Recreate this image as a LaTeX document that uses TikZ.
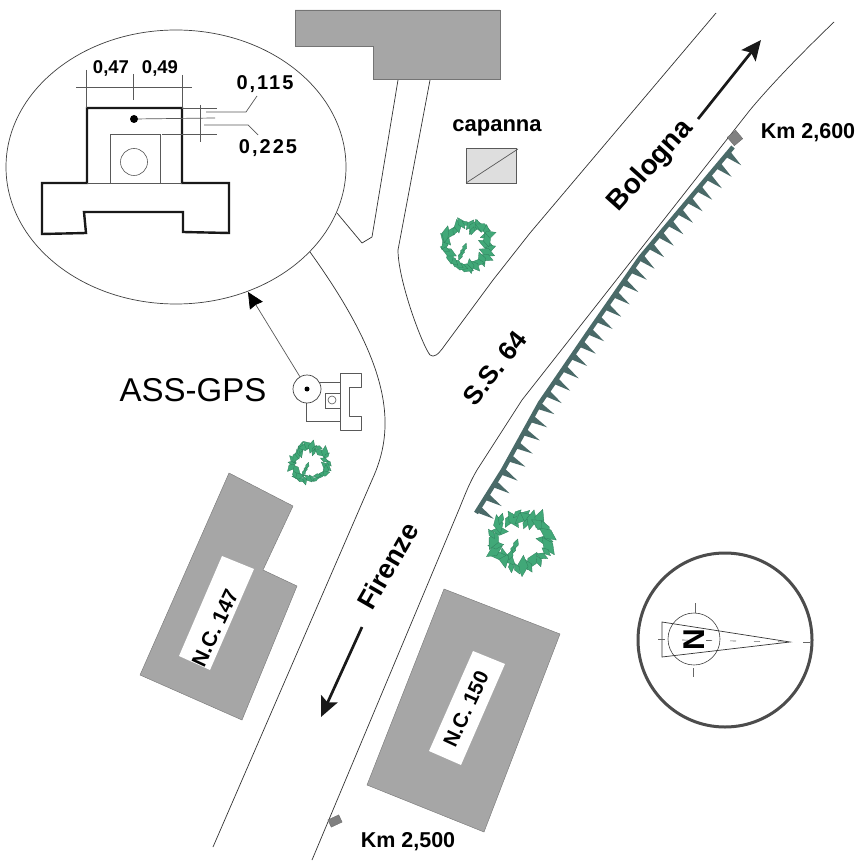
\documentclass[tikz,border=0pt]{standalone}
\usepackage{fontspec}
\setmainfont{Liberation Sans}
\usetikzlibrary{shapes.geometric,decorations.markings,arrows.meta}
\definecolor{bldg}{HTML}{A6A6A6}
\definecolor{leaf}{HTML}{41A878}
\definecolor{leafdk}{HTML}{2F7F5C}
\definecolor{hedge}{HTML}{4A6A68}
\newcommand{\fs}[1]{\fontsize{#1}{#1}\selectfont}
\tikzset{
  x=1pt,y=-1pt,
  road/.style={draw=black!80,line width=.7pt,line join=round},
  thin line/.style={draw=black!65,line width=.7pt},
  heavy/.style={draw=black!90,line width=2.4pt,line join=miter},
  building/.style={fill=bldg,draw=bldg!70!black,line width=.4pt},
  label/.style={inner sep=0pt,font=\bfseries\fs{#1}},
  label/.default=21,
  leafshape/.style={fill=leaf,draw=leafdk,line width=.3pt},
  bigarrow/.style={line width=2.7pt,draw=black!90,-{Stealth[length=20pt,width=18pt,inset=4pt]}},
  tree/.pic={
    \pgfmathsetseed{#1}
    \foreach \a in {0,12,...,348}{
      \pgfmathsetmacro\r{16+6*rnd}
      \pgfmathsetmacro\b{\a+140*rnd-70}
      \pgfmathsetmacro\l{4+4*rnd}
      \fill[leafshape,shift={(\a:\r)},rotate=\b] (-\l,0)--(0,-.5*\l)--(\l,0)--(0,.5*\l)--cycle;
    }
    \foreach \p/\q in {-5/7,-3/3,-7/11,4/-12}{
      \fill[leafshape,shift={(\p,\q)},rotate=70] (-4,0)--(0,-2)--(4,0)--(0,2)--cycle;
    }
  },
  tree/.default=11
}
\begin{document}
\begin{tikzpicture}
\useasboundingbox (0,0) rectangle (866,866);
\fill[white] (0,0) rectangle (866,866);
% roads
\path[road] (213,847) -- (372,480) .. controls (395,430) and (395,370) .. (310,252);
\path[road] (312,860) -- (460,507) .. controls (466,492) and (470,482) .. (477,470) -- (522,400) -- (750,110) .. controls (775,80) and (810,45) .. (834,22);
\path[road] (716,13) -- (530,233) -- (493,280) -- (445,345) .. controls (438,355) and (434,358) .. (430,355) .. controls (422,345) and (398,280) .. (398,250) -- (430,80);
\path[road] (337,213) -- (362,243) -- (372,237) -- (398,80);
% top building
\path[building] (295,10) -- (500,10) -- (500,79) -- (373,79) -- (373,46) -- (295,46) -- cycle;
% shed
\path[fill=black!13,draw=black!65,line width=.8pt] (466,148) rectangle (516,183);
\draw[thin line] (466,183) -- (518,149);
\node[label=22] (capanna) at (497,128) {capanna};
% trees
\pic[scale=1.1] at (468,244) {tree=3};
\pic[scale=.88] at (310,463) {tree=7};
\pic[scale=1.35] at (520,540) {tree=12};
% hedge
\draw[hedge,line width=4.5pt,line join=round,postaction={decorate},
  decoration={markings,mark=between positions 0.01 and 1 step 15pt with {
    \fill[hedge] (-3.7,0) -- (3.7,0) -- (0,18) -- cycle;}}]
  (476,513) -- (503,470) -- (540,403) -- (590,330) -- (640,258) -- (665,228) -- (733,147);
\node[fill=black!50,draw=black!60,line width=.3pt,minimum size=11pt,inner sep=0pt,rotate=40] (kmA) at (735,138) {};
\node[fill=black!50,draw=black!60,line width=.3pt,minimum width=12pt,minimum height=8pt,inner sep=0pt,rotate=25] (kmB) at (335,821) {};
\node[label=21.5] (kmAt) at (808,133) {Km 2,600};
\node[label=21.5] (kmBt) at (408,842) {Km 2,500};
% road labels and arrows
\node[label=28,rotate=48] (bologna) at (651,166) {Bologna};
\node[label=26,rotate=52] (ss) at (495,368) {S.S. 64};
\node[label=27,rotate=60] (firenze) at (388,566) {Firenze};
\coordinate (bolS) at (698,119); \coordinate (bolE) at (761,40);
\coordinate (firS) at (362,627); \coordinate (firE) at (321,717);
\draw[bigarrow] (bolS) -- (bolE);
\draw[bigarrow] (firS) -- (firE);
% lower buildings
\path[building] (229,473) -- (293,506) -- (263,570) -- (297,586) -- (242,720) -- (140,675) -- cycle;
\fill[white] (222,556) -- (254,569) -- (210,670) -- (179,656) -- cycle;
\node[label=21,rotate=65] (nc147) at (215,628) {N.C. 147};
\path[building] (444,589) -- (560,634) -- (484,832) -- (367,785) -- cycle;
\fill[white] (473,651) -- (505,664) -- (461,765) -- (429,751) -- cycle;
\node[label=20.5,rotate=65] (nc150) at (466,709) {N.C. 150};
% detail ellipse
\node[ellipse,draw=black!75,line width=.7pt,fill=white,minimum width=340pt,minimum height=274pt,inner sep=0pt] (detail) at (176,167) {};
\path[heavy] (87,183) -- (87,108) -- (182,108) -- (182,183) -- (229,183) -- (229,233) -- (183,232) -- (183,212) -- (84,212) -- (86,233) -- (42,234) -- (42,183) -- cycle;
\draw[thin line] (87,183) -- (182,183);
\draw[thin line] (110,183) -- (110,134) -- (160,134) -- (160,183);
\draw[thin line] (162,134) -- (217,134);
\node[circle,draw=black!65,line width=.6pt,minimum size=27pt,inner sep=0pt] (hole) at (134,162) {};
\node[circle,fill=black,minimum size=8pt,inner sep=0pt] (pt) at (134,119) {};
\coordinate (ptE) at (215,118);
\draw[thin line] (pt) -- (ptE);
\draw[thin line] (182,108) -- (217,108);
\draw[thin line] (200,105) -- (200,142);
\draw[thin line] (206,112) -- (246,112) -- (257,96);
\draw[thin line] (204,125) -- (248,125) -- (258,135);
\draw[thin line] (76,87) -- (192,87);
\draw[thin line] (86,70) -- (86,108);
\draw[thin line] (133,74) -- (133,100);
\draw[thin line] (182,75) -- (182,108);
\node[label=18.5] (d47) at (111,68) {0,47};
\node[label=18.5] (d49) at (160,68) {0,49};
\node[inner sep=0pt,font=\bfseries\fs{20}\addfontfeatures{LetterSpace=10}] (d115) at (265,84) {0,115};
\node[inner sep=0pt,font=\bfseries\fs{20}\addfontfeatures{LetterSpace=10}] (d225) at (268,148) {0,225};
% small plan
\path[draw=black!65,line width=.8pt,line join=round] (340,373) -- (361,373) -- (361,387) -- (349,387) -- (349,416) -- (361,416) -- (361,430) -- (340,430) -- cycle;
\draw[thin line] (319,382) -- (340,382);
\draw[thin line] (306,402) -- (306,421) -- (340,421);
\draw[thin line] (325,393) rectangle (340,408);
\node[circle,draw=black!65,line width=.6pt,minimum size=8pt,inner sep=0pt] (smallhole) at (332,400) {};
\node[circle,draw=black!75,line width=.7pt,fill=white,minimum size=28pt,inner sep=0pt] (gps) at (307,389) {};
\node[circle,fill=black,minimum size=5pt,inner sep=0pt] (gpsdot) at (307,389) {};
\coordinate (gpsTip) at (248,292);
\draw[thin line,-{Stealth[length=16pt,width=15pt,inset=1pt,black]}] (gps.120) -- (gpsTip);
\node[inner sep=0pt,font=\fs{33}] (ass) at (193,390) {ASS-GPS};
% compass
\node[circle,draw=black!70,line width=3pt,minimum size=174pt,inner sep=0pt] (rose) at (725,640) {};
\node[circle,draw=black!75,line width=.6pt,minimum size=52pt,inner sep=0pt] (needle) at (694,639) {};
\draw[thin line,draw=black!80] (662,622) -- (662,657) -- (790,642) -- cycle;
\draw[black!60,line width=.6pt] (695,603) -- (695,613);
\draw[black!60,line width=.6pt] (693,668) -- (693,677);
\draw[black!60,line width=.6pt] (658,639) -- (665,639);
\draw[black!60,line width=.6pt] (803,642) -- (810,642);
\draw[black!60,line width=.6pt,dash pattern=on 6pt off 18pt] (682,640) -- (790,642);
\node[label=30,rotate=90] (N) at (694,640) {N};
\end{tikzpicture}
\end{document}
